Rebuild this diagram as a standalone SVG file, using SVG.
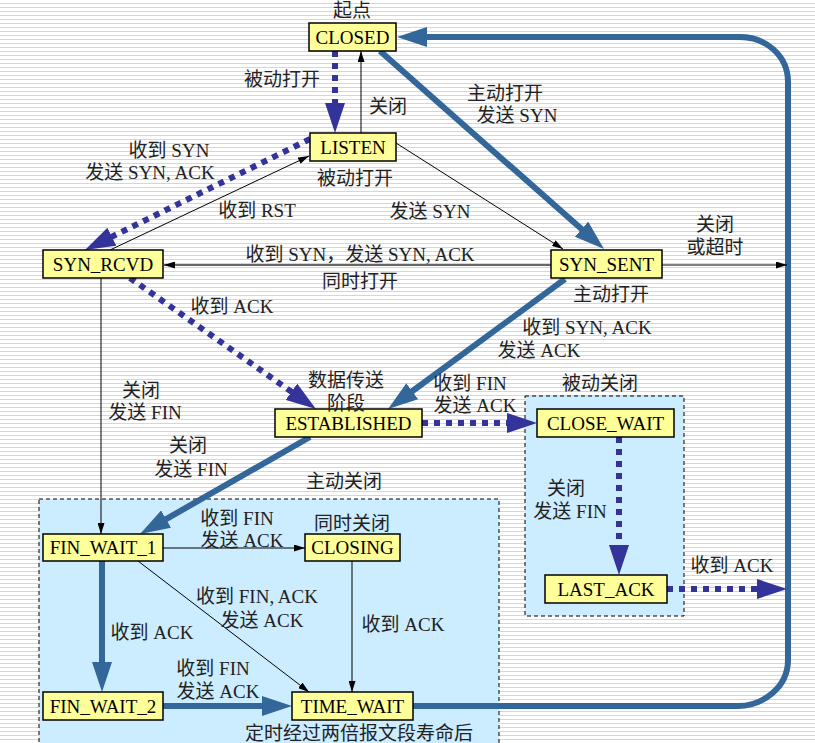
<svg xmlns="http://www.w3.org/2000/svg" width="815" height="743" viewBox="0 0 815 743">
<defs>
<pattern id="stripes" width="8" height="4" patternUnits="userSpaceOnUse">
<rect width="8" height="4" fill="#ffffff"/>
<rect y="3" width="8" height="1" fill="#d6d6d6"/>
</pattern>
<marker id="ab" markerUnits="userSpaceOnUse" markerWidth="30" markerHeight="20" viewBox="0 0 30 20" refX="3" refY="10" orient="auto">
<path d="M0,0 L30,10 L0,20 z" fill="#336699"/>
</marker>
<marker id="nb" markerUnits="userSpaceOnUse" markerWidth="30" markerHeight="20" viewBox="0 0 30 20" refX="3" refY="10" orient="auto">
<path d="M0,0 L30,10 L0,20 z" fill="#333399"/>
</marker>
<marker id="tb" markerUnits="userSpaceOnUse" markerWidth="11" markerHeight="7" viewBox="0 0 11 7" refX="11" refY="3.5" orient="auto">
<path d="M0,0 L11,3.5 L0,7 z" fill="#000"/>
</marker>
</defs>
<style>
.node rect{fill:#ffff99;stroke:#000;stroke-width:1.5}
.node text{font-family:'Liberation Serif','Noto Sans CJK SC',serif;font-size:19px;fill:#000;text-anchor:middle}
.lbl{font-family:'Liberation Serif','Noto Sans CJK SC',serif;font-size:19px;fill:#222;text-anchor:middle}
.region{fill:#ccecff;stroke:#000;stroke-width:1;stroke-dasharray:4 3}
.thick{fill:none;stroke:#336699;stroke-width:6;marker-end:url(#ab)}
.dot{fill:none;stroke:#333399;stroke-width:6;stroke-dasharray:6 6;marker-end:url(#nb)}
.thin{fill:none;stroke:#000;stroke-width:1;marker-end:url(#tb)}
</style>
<rect width="815" height="743" fill="url(#stripes)"/>
<g id="regions">
<rect class="region" x="39" y="499" width="460" height="260"/>
<rect class="region" x="525" y="396" width="159" height="220"/>
</g>
<g id="connectors">
<path class="thick" d="M380,51 L583.8,231.1"/>
<path class="thick" d="M413,706 L738,706 C762,706 788,688 788,660 L788,82 C788,55 765,37 740,37 L424,37"/>
<path class="thick" d="M565,279 L409.8,393"/>
<path class="thick" d="M310,437 L163.5,520.6"/>
<path class="thick" d="M102,561 L102,665"/>
<path class="thick" d="M163,706 L265,706"/>
<path class="dot" d="M335,51 L335,106"/>
<path class="dot" d="M310,139 L109.2,238"/>
<path class="dot" d="M130,278 L293.9,393.5"/>
<path class="dot" d="M422,423 L510,423"/>
<path class="dot" d="M619,437 L619,548"/>
<path class="dot" d="M667,589 L760,589"/>
<path class="thin" d="M361,133 L361,51"/>
<path class="thin" d="M110,250 L309,156"/>
<path class="thin" d="M396,143 L563,249"/>
<path class="thin" style="stroke:#333;stroke-width:1.6" d="M551,265 L164,265"/>
<path class="thin" d="M662,265 L787,265"/>
<path class="thin" d="M101,278 L101,534"/>
<path class="thin" d="M163,548 L305,548"/>
<path class="thin" d="M138,561 L309,692"/>
<path class="thin" d="M352,561 L352,692"/>
</g>
<g id="closed" class="node"><rect x="309" y="23" width="87" height="28"/><text x="352.5" y="43.5">CLOSED</text></g>
<g id="listen" class="node"><rect x="310" y="133" width="86" height="28"/><text x="353" y="153.5">LISTEN</text></g>
<g id="syn_rcvd" class="node"><rect x="43" y="250" width="120" height="28"/><text x="103" y="270.5">SYN_RCVD</text></g>
<g id="syn_sent" class="node"><rect x="551" y="250" width="111" height="28"/><text x="606.5" y="270.5">SYN_SENT</text></g>
<g id="established" class="node"><rect x="275" y="409" width="147" height="28"/><text x="348.5" y="429.5">ESTABLISHED</text></g>
<g id="close_wait" class="node"><rect x="537" y="409" width="137" height="28"/><text x="605.5" y="429.5">CLOSE_WAIT</text></g>
<g id="last_ack" class="node"><rect x="545" y="575" width="122" height="28"/><text x="606" y="595.5">LAST_ACK</text></g>
<g id="fin_wait_1" class="node"><rect x="43" y="534" width="120" height="27"/><text x="103" y="554">FIN_WAIT_1</text></g>
<g id="closing" class="node"><rect x="305" y="534" width="95" height="27"/><text x="352.5" y="554">CLOSING</text></g>
<g id="fin_wait_2" class="node"><rect x="43" y="692" width="120" height="28"/><text x="103" y="712.5">FIN_WAIT_2</text></g>
<g id="time_wait" class="node"><rect x="292" y="692" width="121" height="28"/><text x="352.5" y="712.5">TIME_WAIT</text></g>
<g id="labels">
<text class="lbl" x="352" y="17">起点</text>
<text class="lbl" x="282" y="86">被动打开</text>
<text class="lbl" x="388" y="113">关闭</text>
<text class="lbl" x="505" y="100">主动打开</text>
<text class="lbl" x="517" y="122">发送 SYN</text>
<text class="lbl" x="169" y="157">收到 SYN</text>
<text class="lbl" x="150" y="179">发送 SYN, ACK</text>
<text class="lbl" x="355" y="185">被动打开</text>
<text class="lbl" x="257" y="217">收到 RST</text>
<text class="lbl" x="430" y="218">发送 SYN</text>
<text class="lbl" x="360" y="261">收到 SYN，发送 SYN, ACK</text>
<text class="lbl" x="360" y="288">同时打开</text>
<text class="lbl" x="715" y="231">关闭</text>
<text class="lbl" x="715" y="254">或超时</text>
<text class="lbl" x="611" y="301">主动打开</text>
<text class="lbl" x="232" y="313">收到 ACK</text>
<text class="lbl" x="587" y="334">收到 SYN, ACK</text>
<text class="lbl" x="539" y="357">发送 ACK</text>
<text class="lbl" x="346" y="387">数据传送</text>
<text class="lbl" x="346" y="410">阶段</text>
<text class="lbl" x="141" y="397">关闭</text>
<text class="lbl" x="145" y="419">发送 FIN</text>
<text class="lbl" x="188" y="452">关闭</text>
<text class="lbl" x="191" y="476">发送 FIN</text>
<text class="lbl" x="344" y="488">主动关闭</text>
<text class="lbl" x="470" y="390">收到 FIN</text>
<text class="lbl" x="475" y="412">发送 ACK</text>
<text class="lbl" x="600" y="390">被动关闭</text>
<text class="lbl" x="566" y="495">关闭</text>
<text class="lbl" x="570" y="518">发送 FIN</text>
<text class="lbl" x="732" y="572">收到 ACK</text>
<text class="lbl" x="237" y="525">收到 FIN</text>
<text class="lbl" x="242" y="547">发送 ACK</text>
<text class="lbl" x="352" y="530">同时关闭</text>
<text class="lbl" x="257" y="603">收到 FIN, ACK</text>
<text class="lbl" x="262" y="627">发送 ACK</text>
<text class="lbl" x="403" y="631">收到 ACK</text>
<text class="lbl" x="152" y="639">收到 ACK</text>
<text class="lbl" x="213" y="675">收到 FIN</text>
<text class="lbl" x="218" y="698">发送 ACK</text>
<text class="lbl" x="359" y="740">定时经过两倍报文段寿命后</text>
</g>
</svg>
